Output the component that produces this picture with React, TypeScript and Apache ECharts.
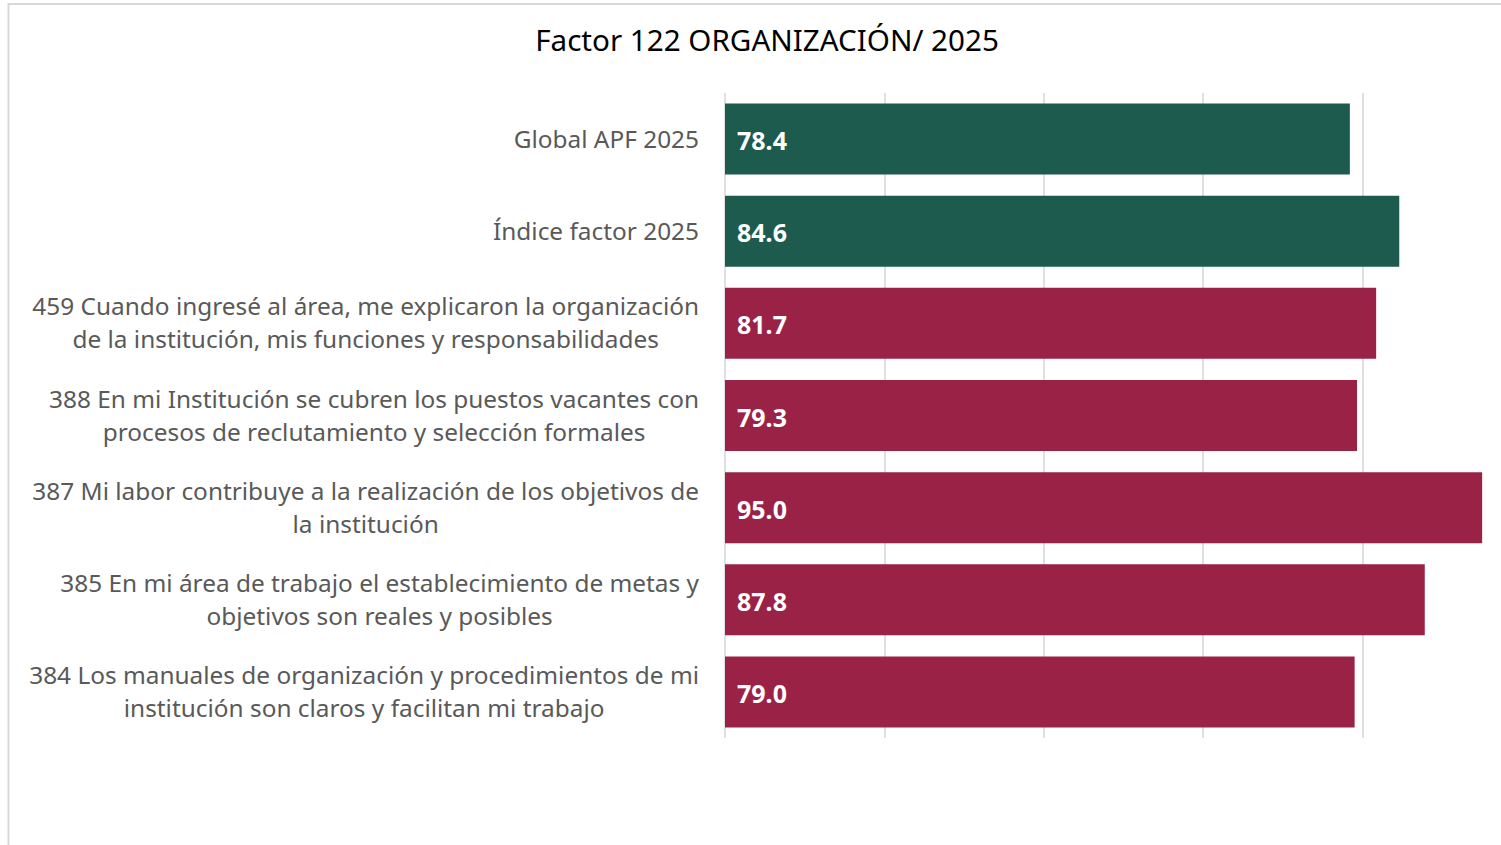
import React, { useEffect, useRef } from "react";
import * as echarts from "echarts";

const titleText = "Factor 122 ORGANIZACIÓN/ 2025";
const categories = [
  "Global APF 2025",
  "Índice factor 2025",
  "459 Cuando ingresé al área, me explicaron la organización\nde la institución, mis funciones y responsabilidades",
  "388 En mi Institución se cubren los puestos vacantes con\nprocesos de reclutamiento y selección formales",
  "387 Mi labor contribuye a la realización de los objetivos de\nla institución",
  "385 En mi área de trabajo el establecimiento de metas y\nobjetivos son reales y posibles",
  "384 Los manuales de organización y procedimientos de mi\ninstitución son claros y facilitan mi trabajo",
];
const values = [78.4, 84.6, 81.7, 79.3, 95.0, 87.8, 79.0];
const kinds = ["global", "global", "item", "item", "item", "item", "item"];

const GREEN = "#1e5b4f";
const MAROON = "#9b2247";
const FONT = "'Noto Sans', 'Open Sans', sans-serif";

export default function App() {
  const ref = useRef<HTMLDivElement>(null);
  useEffect(() => {
    if (!ref.current) return;
    const chart = echarts.init(ref.current, undefined, { renderer: "svg" });
    chart.setOption({
      animation: false,
      textStyle: { fontFamily: FONT },
      title: {
        text: titleText,
        left: 762,
        top: 19,
        textAlign: "center",
        textStyle: { fontFamily: FONT, fontSize: 29.6, fontWeight: "normal", color: "#000000" },
      },
      graphic: [
        {
          type: "rect",
          silent: true,
          shape: { x: 8.5, y: 4, width: 1700, height: 1000 },
          style: { fill: "none", stroke: "#d9d9d9", lineWidth: 2 },
        },
      ],
      grid: { left: 725, top: 93, height: 645, right: 24, containLabel: false },
      xAxis: {
        type: "value",
        min: 0,
        max: 100,
        interval: 20,
        axisLabel: { show: false },
        axisLine: { show: false },
        axisTick: { show: false },
        splitLine: { show: true, lineStyle: { color: "#d9d9d9", width: 1.6 } },
      },
      yAxis: {
        type: "category",
        inverse: true,
        data: categories,
        axisLine: { show: false },
        axisTick: { show: false },
        axisLabel: {
          margin: 26,
          color: "#595959",
          fontFamily: FONT,
          fontSize: 24.4,
          lineHeight: 33,
          padding: [0, 0, 2, 0],
          formatter: (v: string) =>
            v
              .split("\n")
              .map((l) => "{c|" + l + "}")
              .join("\n"),
          rich: {
            c: {
              align: "center",
              color: "#595959",
              fontFamily: FONT,
              fontSize: 24.4,
              lineHeight: 33,
            },
          },
        },
      },
      series: [
        {
          type: "bar",
          barWidth: 71,
          data: values.map((v, i) => ({
            value: v,
            itemStyle: { color: kinds[i] === "global" ? GREEN : MAROON },
          })),
          label: {
            show: true,
            position: "insideLeft",
            distance: 12,
            offset: [0, 1],
            color: "#ffffff",
            fontFamily: FONT,
            fontWeight: "bold",
            fontSize: 25,
            formatter: (p: any) => Number(p.value).toFixed(1),
          },
        },
      ],
    });
    return () => chart.dispose();
  }, []);
  return (
    <div
      style={{
        position: "fixed",
        left: 0,
        top: 0,
        width: 1501,
        height: 845,
        overflow: "hidden",
        background: "#ffffff",
      }}
    >
      <div ref={ref} style={{ width: 1546, height: 845 }} />
    </div>
  );
}
